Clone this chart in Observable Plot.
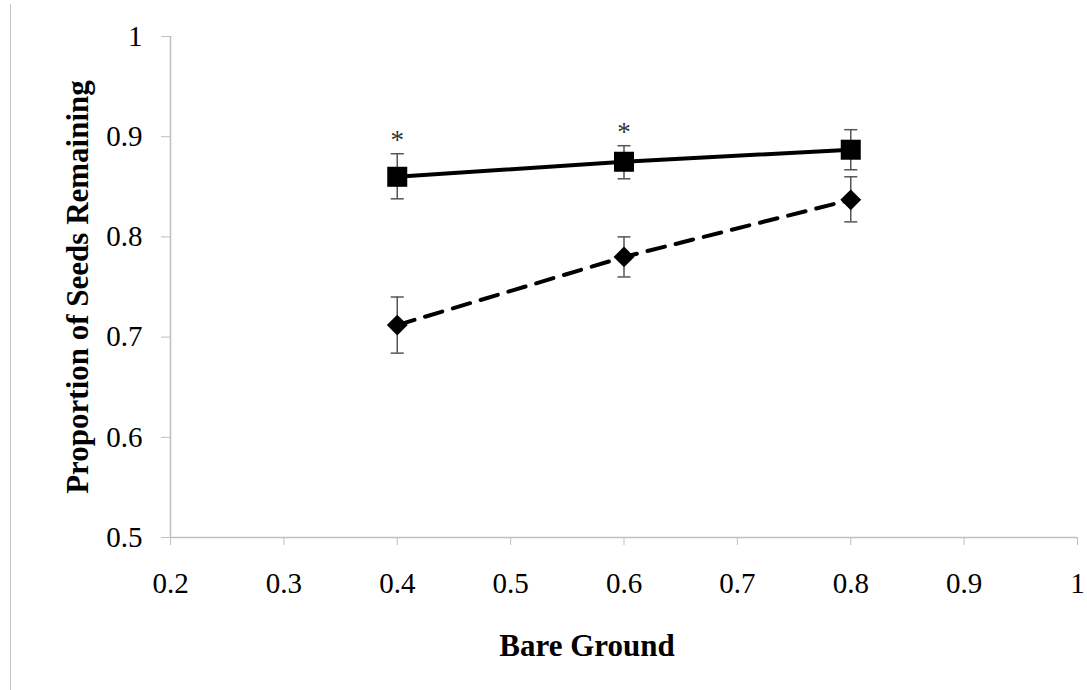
<!DOCTYPE html>
<html>
<head>
<meta charset="utf-8">
<script src="https://cdn.jsdelivr.net/npm/d3@7"></script>
<script src="https://cdn.jsdelivr.net/npm/@observablehq/plot@0.6"></script>
<style>
  html, body { margin: 0; padding: 0; background: #fff; }
  #wrap { position: relative; width: 1087px; height: 690px; }
  #edge { position: absolute; left: 10px; top: 4px; bottom: 0; border-left: 1px solid #c4c4c4; }
</style>
</head>
<body>
<div id="wrap"><div id="edge"></div><div id="chart"></div></div>
<script>
// Data
const bareGround = [0.4, 0.6, 0.8];
const solidMean = [0.860, 0.875, 0.887];
const solidLo   = [0.838, 0.858, 0.867];
const solidHi   = [0.883, 0.891, 0.907];
const dashedMean = [0.712, 0.780, 0.837];
const dashedLo   = [0.684, 0.760, 0.815];
const dashedHi   = [0.740, 0.800, 0.860];
const significant = [true, true, false];
const xTicks = [0.2, 0.3, 0.4, 0.5, 0.6, 0.7, 0.8, 0.9, 1];
const yTicks = [0.5, 0.6, 0.7, 0.8, 0.9, 1];
const xTitle = "Bare Ground";
const yTitle = "Proportion of Seeds Remaining";

const solid = bareGround.map((x, i) => ({x, mean: solidMean[i], lo: solidLo[i], hi: solidHi[i], sig: significant[i]}));
const dashed = bareGround.map((x, i) => ({x, mean: dashedMean[i], lo: dashedLo[i], hi: dashedHi[i]}));
const stars = solid.filter(d => d.sig);

const capSymbol = { draw(ctx) { ctx.moveTo(-6.5, 0); ctx.lineTo(6.5, 0); } };
const errColor = "#555";
const axisColor = "#bfbfbf";

const errMarks = (data) => [
  Plot.ruleX(data, {x: "x", y1: "lo", y2: "hi", stroke: errColor, strokeWidth: 1.5}),
  Plot.dot(data, {x: "x", y: "lo", symbol: capSymbol, r: 1, stroke: errColor, strokeWidth: 1.5, fill: "none"}),
  Plot.dot(data, {x: "x", y: "hi", symbol: capSymbol, r: 1, stroke: errColor, strokeWidth: 1.5, fill: "none"})
];

const chart = Plot.plot({
  width: 1087,
  height: 690,
  marginLeft: 170,
  marginRight: 10,
  marginTop: 36,
  marginBottom: 153,
  style: {fontFamily: "'Liberation Serif', 'Times New Roman', serif", fontSize: "29px", background: "transparent", color: "#000"},
  x: {domain: [0.2, 1], ticks: xTicks},
  y: {domain: [0.5, 1], ticks: yTicks},
  marks: [
    Plot.ruleY([0.5], {stroke: axisColor, strokeWidth: 1.5}),
    Plot.ruleX([0.2], {stroke: axisColor, strokeWidth: 1.5}),
    Plot.axisY({ticks: yTicks, tickSize: 9, tickPadding: 19, stroke: axisColor, fill: "#000", label: null, tickFormat: d => String(d)}),
    Plot.axisX({ticks: xTicks, tickSize: 8, tickPadding: 27, stroke: axisColor, fill: "#000", label: null, tickFormat: d => String(d)}),
    ...errMarks(solid),
    ...errMarks(dashed),
    Plot.line(solid, {x: "x", y: "mean", stroke: "#000", strokeWidth: 4}),
    Plot.line(dashed, {x: "x", y: "mean", stroke: "#000", strokeWidth: 4, strokeDasharray: "18,11"}),
    Plot.dot(solid, {x: "x", y: "mean", symbol: "square", r: 11.3, fill: "#000"}),
    Plot.dot(dashed, {x: "x", y: "mean", symbol: "diamond2", r: 9.4, fill: "#000"}),
    Plot.text(stars, {x: "x", y: "hi", text: () => "*", dy: -13, fontSize: 27, fill: "#333"}),
    Plot.text([xTitle], {frameAnchor: "bottom", text: d => d, textAnchor: "middle", lineAnchor: "middle", dx: -37, dy: 109, fontWeight: "bold", fontSize: 31}),
    Plot.text([yTitle], {frameAnchor: "left", text: d => d, textAnchor: "middle", lineAnchor: "middle", dx: -92, rotate: -90, fontWeight: "bold", fontSize: 31})
  ]
});
document.getElementById("chart").appendChild(chart);
</script>
</body>
</html>
